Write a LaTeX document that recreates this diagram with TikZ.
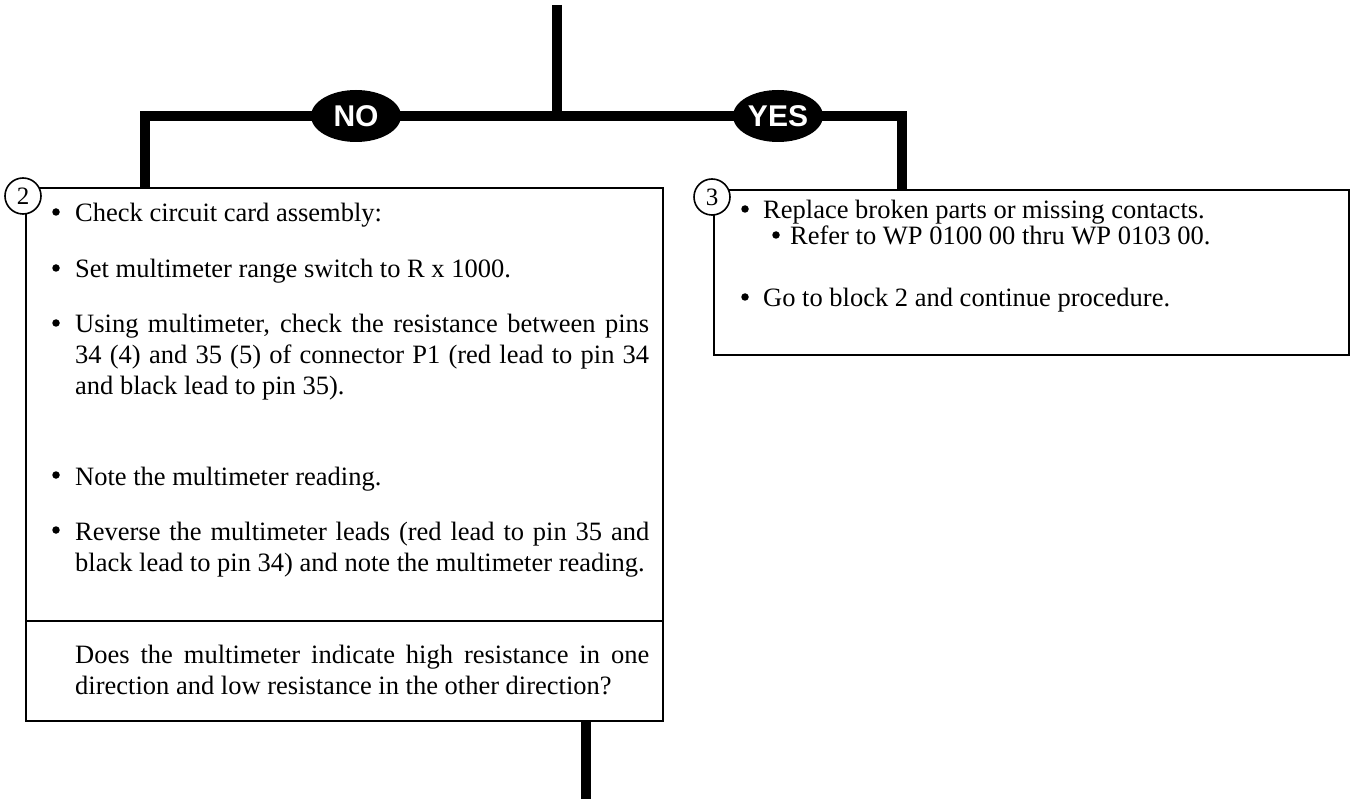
\documentclass[tikz,border=0pt]{standalone}
\usepackage{fontspec}
\setmainfont{Liberation Serif}
\newfontfamily\labfont{Liberation Sans}
\usetikzlibrary{shapes.geometric}
\tikzset{
  flow/.style={line width=10pt, line join=miter},
  blockbox/.style={draw, line width=1.6pt, inner sep=0pt, anchor=north west},
  numcirc/.style={circle, draw, fill=white, line width=1.6pt, minimum size=36pt, inner sep=0pt, font=\fontsize{25}{25}\selectfont},
  answer/.style={ellipse, fill=black, text=white, minimum width=90pt, minimum height=52pt, inner sep=0pt, font=\labfont\bfseries\fontsize{30}{30}\selectfont},
  dot/.style={circle, fill=black, minimum size=7.5pt, inner sep=0pt},
  para/.style={anchor=base west, inner sep=0pt, align=justify, text width=#1, font=\fontsize{26.5}{31}\selectfont},
  txtline/.style={anchor=base west, inner sep=0pt, font=\fontsize{26.5}{31}\selectfont},
}
\begin{document}
\begin{tikzpicture}[x=1pt,y=-1pt]
\useasboundingbox (0,0) rectangle (1351,799);
% boxes
\node[blockbox, minimum width=637pt, minimum height=433pt] (b2) at (25,187) {};
\node[blockbox, minimum width=637pt, minimum height=100pt] (q2) at (25,620) {};
\node[blockbox, minimum width=635pt, minimum height=165pt] (b3) at (713,189) {};
% connectors
\coordinate (top) at (557,5);
\coordinate (jn) at (557,116);
\coordinate (lc) at (145,116);
\coordinate (rc) at (902,116);
\coordinate (bot) at (586,799);
\draw[flow] (top) -- (jn);
\draw[flow] (jn) -- (lc) -- (lc |- b2.north);
\draw[flow] (jn) -- (rc) -- (rc |- b3.north);
\draw[flow] (bot |- q2.south) -- (bot);
\node[answer] (no) at (356,116) {NO};
\node[answer] (yes) at (778,116) {YES};
% numbers
\node[numcirc] (c2) at (23,196) {2};
\node[numcirc] (c3) at (712,197) {3};
% block 2 text
\node[dot] (b2a) at (56,212) {};
\node[txtline] (t2a) at (75,222) {Check circuit card assembly:};
\node[dot] (b2b) at (56,268) {};
\node[txtline] (t2b) at (75,278) {Set multimeter range switch to R x 1000.};
\node[dot] (b2c) at (56,323) {};
\node[para=574pt] (t2c) at (75,333) {Using multimeter, check the resistance between pins\linebreak 34 (4) and 35 (5) of connector P1 (red lead to pin 34\linebreak and black lead to pin 35).};
\node[dot] (b2d) at (56,475) {};
\node[txtline] (t2d) at (75,485) {Note the multimeter reading.};
\node[dot] (b2e) at (56,530) {};
\node[para=574pt] (t2e) at (75,540) {Reverse the multimeter leads (red lead to pin 35 and\linebreak black lead to pin 34) and note the multimeter reading.};
\node[para=574pt] (t2f) at (75,663) {Does the multimeter indicate high resistance in one\linebreak direction and low resistance in the other direction?};
% block 3 text
\node[dot] (b3a) at (745,209) {};
\node[txtline] (t3a) at (763,219) {Replace broken parts or missing contacts.};
\node[dot] (b3b) at (776,235) {};
\node[txtline] (t3b) at (790,245) {Refer to WP 0100 00 thru WP 0103 00.};
\node[dot] (b3c) at (745,297) {};
\node[txtline] (t3c) at (763,307) {Go to block 2 and continue procedure.};
\end{tikzpicture}
\end{document}
